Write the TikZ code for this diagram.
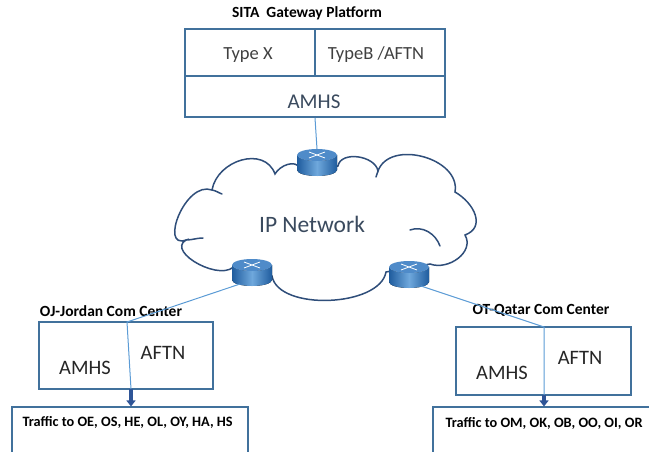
\documentclass[tikz,border=0pt]{standalone}
\usepackage{fontspec}
\setmainfont{Carlito}
\usetikzlibrary{arrows.meta}
\definecolor{boxline}{HTML}{41719C}
\definecolor{linkline}{HTML}{5B9BD5}
\definecolor{cloudline}{HTML}{2F4E7A}
\definecolor{feedline}{HTML}{2F5597}
\definecolor{rtdark}{HTML}{1F5C9E}
\definecolor{rtlight}{HTML}{6FA8DC}
\definecolor{rttop}{HTML}{4F8BC9}
\definecolor{txtgray}{HTML}{404040}
\definecolor{txtslate}{HTML}{3A4A5E}
\tikzset{
  panel/.style={draw=boxline, line width=1.8pt, inner sep=0pt},
  trafbox/.style={draw=boxline, line width=1.1pt, inner sep=0pt},
  link/.style={draw=linkline, line width=1pt},
  feed/.style={draw=feedline, line width=3.5pt, -{Triangle[width=9pt,length=6pt]}},
  puff/.style={draw=cloudline, line width=1.5pt, line cap=round},
  caption/.style={font=\bfseries\fontsize{15.5}{18}\selectfont, text=black},
  traffic/.style={font=\bfseries\fontsize{14.3}{17}\selectfont, text=black, anchor=west},
  big/.style={font=\fontsize{20.5}{24}\selectfont, text=black!85},
  router/.pic={
    \fill[left color=rtdark, right color=rtdark, middle color=rtlight]
      (-20,-7) -- (-20,8) arc[start angle=180, end angle=0, x radius=20, y radius=6]
      -- (20,-7) arc[start angle=0, end angle=180, x radius=20, y radius=6] -- cycle;
    \fill[rttop] (0,-7) ellipse[x radius=20, y radius=6];
    \draw[white, line width=0.8pt] (-8,-10) -- (8,-4) (-8,-4) -- (8,-10);
    \coordinate (-top) at (0,-13);
    \coordinate (-sw) at (-12,12);
    \coordinate (-se) at (12,12);
  }
}
\begin{document}
\begin{tikzpicture}[x=1pt,y=-1pt]
  \useasboundingbox (0,0) rectangle (649,452);
  % SITA gateway
  \node[caption] (sitacap) at (307,13) {SITA\ \ Gateway Platform};
  \node[panel, minimum width=130pt, minimum height=47pt] (typex) at (250,52.5) {};
  \node[panel, minimum width=130pt, minimum height=47pt] (typeb) at (380,52.5) {};
  \node[panel, minimum width=260pt, minimum height=41pt] (sitaamhs) at (315,96.5) {};
  \node[text=txtgray, font=\fontsize{18.5}{22}\selectfont] (typextxt) at (248,55) {Type X};
  \node[text=txtgray, font=\fontsize{18.5}{22}\selectfont] (typebtxt) at (376,55) {TypeB /AFTN};
  \node[text=txtslate, font=\fontsize{21}{25}\selectfont] (amhstxt) at (314,102) {AMHS};
  % IP network
  \draw[puff, fill=white] (300,168)
    to[out=120, in=60] (275,174)
    to[out=110, in=80, looseness=1.2] (212,190)
    to[out=160, in=-160, looseness=1.3] (186,240)
    to[out=-150, in=-120, looseness=1.1] (236,264)
    -- (272,276)
    to[out=-80, in=-100, looseness=0.8] (386,272)
    -- (430,264)
    to[out=-20, in=-60, looseness=1.1] (465,235)
    to[out=20, in=-30, looseness=1.3] (455,192)
    to[out=80, in=70, looseness=1.1] (378,171)
    to[out=100, in=80] (338,166)
    -- cycle;
  \draw[puff] (212,190) to[out=-10, in=160] (222,194);
  \draw[puff] (186,240) to[out=0, in=180] (203,238);
  \draw[puff] (410,230) to[out=20, in=110] (440,246);
  \draw[puff] (378,171) to[out=-100, in=80] (376,177);
  \node[text=txtslate, font=\fontsize{23.5}{28}\selectfont] (iptxt) at (312,224) {IP Network};
  \pic (rtop) at (317,162) {router};
  \pic (rleft) at (252,272) {router};
  \pic (rright) at (409,274) {router};
  % com centers
  \node[caption] (jcap) at (111,311) {OJ-Jordan Com Center};
  \node[panel, minimum width=174pt, minimum height=67pt] (jbox) at (126,355.5) {};
  \node[big] (jamhs) at (85,368) {AMHS};
  \node[big] (jaftn) at (163,353) {AFTN};
  \node[caption] (qcap) at (541,310) {OT-Qatar Com Center};
  \node[panel, minimum width=175pt, minimum height=68pt] (qbox) at (543.5,361) {};
  \node[big] (qamhs) at (502,373) {AMHS};
  \node[big] (qaftn) at (580,358) {AFTN};
  \node[trafbox, minimum width=236pt, minimum height=80pt] (jtraf) at (130,447) {};
  \node[trafbox, minimum width=247pt, minimum height=80pt] (qtraf) at (556.5,447) {};
  \node[traffic] (jtraftxt) at (19,422) {Traffic to OE, OS, HE, OL, OY, HA, HS};
  \node[traffic] (qtraftxt) at (442,423) {Traffic to OM, OK, OB, OO, OI, OR};
  % links
  \coordinate (jtop) at (127,322);
  \coordinate (jbot) at (131,389);
  \coordinate (qtop) at (544,327);
  \coordinate (qbot) at (544,395);
  \draw[link] (sitaamhs.south) -- (rtop-top);
  \draw[link] (rleft-sw) -- (jtop) -- (jbot);
  \draw[link] (rright-se) -- (qtop) -- (qbot);
  \draw[feed] (jbot) -- (jtraf.north -| jbot);
  \draw[feed] (qbot) -- (qtraf.north -| qbot);
\end{tikzpicture}
\end{document}
